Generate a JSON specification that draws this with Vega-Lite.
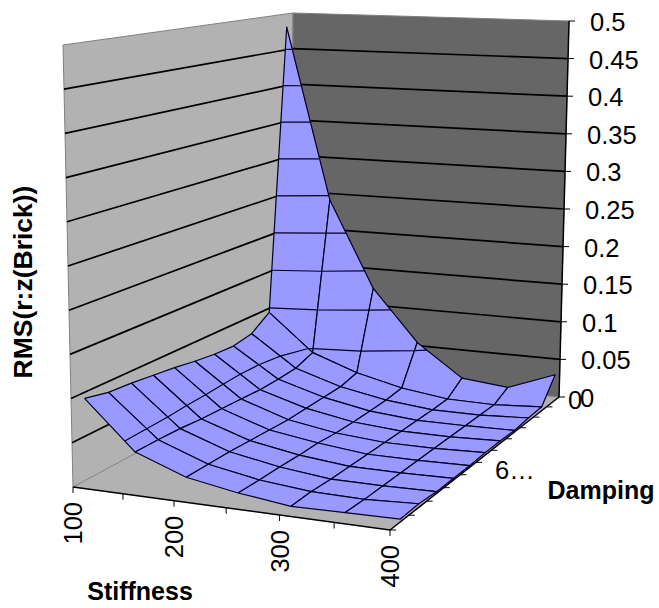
{"$schema":"https://vega.github.io/schema/vega-lite/v6.json","width":659,"height":608,"padding":0,"autosize":{"type":"fit","contains":"padding"},"background":"white","config":{"view":{"stroke":null},"text":{"font":"Liberation Sans","fontSize":25.5,"color":"#000"}},
"datasets":{"vertices":[
{"stiffness":100,"damping":10,"rms":0.481},{"stiffness":150,"damping":10,"rms":0.244},{"stiffness":200,"damping":10,"rms":0.127},{"stiffness":250,"damping":10,"rms":0.059},{"stiffness":300,"damping":10,"rms":0.017},{"stiffness":350,"damping":10,"rms":0.011},{"stiffness":400,"damping":10,"rms":0.034},
{"stiffness":100,"damping":9,"rms":0.094},{"stiffness":150,"damping":9,"rms":0.045},{"stiffness":200,"damping":9,"rms":0.024},{"stiffness":250,"damping":9,"rms":0.01},{"stiffness":300,"damping":9,"rms":0.002},{"stiffness":350,"damping":9,"rms":0.001},{"stiffness":400,"damping":9,"rms":0.005},
{"stiffness":100,"damping":8,"rms":0.076},{"stiffness":150,"damping":8,"rms":0.036},{"stiffness":200,"damping":8,"rms":0.018},{"stiffness":250,"damping":8,"rms":0.007},{"stiffness":300,"damping":8,"rms":0.001},{"stiffness":350,"damping":8,"rms":0.001},{"stiffness":400,"damping":8,"rms":0.004},
{"stiffness":100,"damping":7,"rms":0.071},{"stiffness":150,"damping":7,"rms":0.034},{"stiffness":200,"damping":7,"rms":0.017},{"stiffness":250,"damping":7,"rms":0.006},{"stiffness":300,"damping":7,"rms":0.001},{"stiffness":350,"damping":7,"rms":0.001},{"stiffness":400,"damping":7,"rms":0.002},
{"stiffness":100,"damping":6,"rms":0.072},{"stiffness":150,"damping":6,"rms":0.033},{"stiffness":200,"damping":6,"rms":0.016},{"stiffness":250,"damping":6,"rms":0.0056},{"stiffness":300,"damping":6,"rms":0.001},{"stiffness":350,"damping":6,"rms":0.001},{"stiffness":400,"damping":6,"rms":0.003},
{"stiffness":100,"damping":5,"rms":0.075},{"stiffness":150,"damping":5,"rms":0.034},{"stiffness":200,"damping":5,"rms":0.015},{"stiffness":250,"damping":5,"rms":0.0056},{"stiffness":300,"damping":5,"rms":0.001},{"stiffness":350,"damping":5,"rms":0.001},{"stiffness":400,"damping":5,"rms":0.003},
{"stiffness":100,"damping":4,"rms":0.079},{"stiffness":150,"damping":4,"rms":0.035},{"stiffness":200,"damping":4,"rms":0.016},{"stiffness":250,"damping":4,"rms":0.0073},{"stiffness":300,"damping":4,"rms":0.001},{"stiffness":350,"damping":4,"rms":0.001},{"stiffness":400,"damping":4,"rms":0.002},
{"stiffness":100,"damping":3,"rms":0.082},{"stiffness":150,"damping":3,"rms":0.036},{"stiffness":200,"damping":3,"rms":0.017},{"stiffness":250,"damping":3,"rms":0.007},{"stiffness":300,"damping":3,"rms":0.001},{"stiffness":350,"damping":3,"rms":0.001},{"stiffness":400,"damping":3,"rms":0.002},
{"stiffness":100,"damping":2,"rms":0.085},{"stiffness":150,"damping":2,"rms":0.038},{"stiffness":200,"damping":2,"rms":0.018},{"stiffness":250,"damping":2,"rms":0.0076},{"stiffness":300,"damping":2,"rms":0.001},{"stiffness":350,"damping":2,"rms":0.001},{"stiffness":400,"damping":2,"rms":0.002},
{"stiffness":100,"damping":1,"rms":0.087},{"stiffness":150,"damping":1,"rms":0.039},{"stiffness":200,"damping":1,"rms":0.018},{"stiffness":250,"damping":1,"rms":0.0075},{"stiffness":300,"damping":1,"rms":0.002},{"stiffness":350,"damping":1,"rms":0.001},{"stiffness":400,"damping":1,"rms":0.004},
{"stiffness":100,"damping":0,"rms":0.093},{"stiffness":150,"damping":0,"rms":0.039},{"stiffness":200,"damping":0,"rms":0.018},{"stiffness":250,"damping":0,"rms":0.008},{"stiffness":300,"damping":0,"rms":0.001},{"stiffness":350,"damping":0,"rms":0.002},{"stiffness":400,"damping":0,"rms":0.003}
],
"frame":[
{"kind":"floor","g":"floor","stiffness":100,"damping":-0.545,"rms":0,"o":0},{"kind":"floor","g":"floor","stiffness":400,"damping":-0.545,"rms":0,"o":1},{"kind":"floor","g":"floor","stiffness":400,"damping":10.36,"rms":0,"o":2},{"kind":"floor","g":"floor","stiffness":100,"damping":10.36,"rms":0,"o":3},
{"kind":"left","g":"left","stiffness":100,"damping":-0.545,"rms":0,"o":0},{"kind":"left","g":"left","stiffness":100,"damping":10.36,"rms":0,"o":1},{"kind":"left","g":"left","stiffness":100,"damping":10.36,"rms":0.5,"o":2},{"kind":"left","g":"left","stiffness":100,"damping":-0.545,"rms":0.5,"o":3},{"kind":"left","g":"left","stiffness":100,"damping":-0.545,"rms":0,"o":4},
{"kind":"back","g":"back","stiffness":100,"damping":10.36,"rms":0,"o":0},{"kind":"back","g":"back","stiffness":400,"damping":10.36,"rms":0,"o":1},{"kind":"back","g":"back","stiffness":400,"damping":10.36,"rms":0.5,"o":2},{"kind":"back","g":"back","stiffness":100,"damping":10.36,"rms":0.5,"o":3},{"kind":"back","g":"back","stiffness":100,"damping":10.36,"rms":0,"o":4},
{"kind":"grid","g":"0.05","stiffness":100,"damping":-0.545,"rms":0.05,"o":0},{"kind":"grid","g":"0.05","stiffness":100,"damping":10.36,"rms":0.05,"o":1},{"kind":"grid","g":"0.05","stiffness":400,"damping":10.36,"rms":0.05,"o":2},
{"kind":"grid","g":"0.1","stiffness":100,"damping":-0.545,"rms":0.1,"o":0},{"kind":"grid","g":"0.1","stiffness":100,"damping":10.36,"rms":0.1,"o":1},{"kind":"grid","g":"0.1","stiffness":400,"damping":10.36,"rms":0.1,"o":2},
{"kind":"grid","g":"0.15","stiffness":100,"damping":-0.545,"rms":0.15,"o":0},{"kind":"grid","g":"0.15","stiffness":100,"damping":10.36,"rms":0.15,"o":1},{"kind":"grid","g":"0.15","stiffness":400,"damping":10.36,"rms":0.15,"o":2},
{"kind":"grid","g":"0.2","stiffness":100,"damping":-0.545,"rms":0.2,"o":0},{"kind":"grid","g":"0.2","stiffness":100,"damping":10.36,"rms":0.2,"o":1},{"kind":"grid","g":"0.2","stiffness":400,"damping":10.36,"rms":0.2,"o":2},
{"kind":"grid","g":"0.25","stiffness":100,"damping":-0.545,"rms":0.25,"o":0},{"kind":"grid","g":"0.25","stiffness":100,"damping":10.36,"rms":0.25,"o":1},{"kind":"grid","g":"0.25","stiffness":400,"damping":10.36,"rms":0.25,"o":2},
{"kind":"grid","g":"0.3","stiffness":100,"damping":-0.545,"rms":0.3,"o":0},{"kind":"grid","g":"0.3","stiffness":100,"damping":10.36,"rms":0.3,"o":1},{"kind":"grid","g":"0.3","stiffness":400,"damping":10.36,"rms":0.3,"o":2},
{"kind":"grid","g":"0.35","stiffness":100,"damping":-0.545,"rms":0.35,"o":0},{"kind":"grid","g":"0.35","stiffness":100,"damping":10.36,"rms":0.35,"o":1},{"kind":"grid","g":"0.35","stiffness":400,"damping":10.36,"rms":0.35,"o":2},
{"kind":"grid","g":"0.4","stiffness":100,"damping":-0.545,"rms":0.4,"o":0},{"kind":"grid","g":"0.4","stiffness":100,"damping":10.36,"rms":0.4,"o":1},{"kind":"grid","g":"0.4","stiffness":400,"damping":10.36,"rms":0.4,"o":2},
{"kind":"grid","g":"0.45","stiffness":100,"damping":-0.545,"rms":0.45,"o":0},{"kind":"grid","g":"0.45","stiffness":100,"damping":10.36,"rms":0.45,"o":1},{"kind":"grid","g":"0.45","stiffness":400,"damping":10.36,"rms":0.45,"o":2},
{"kind":"axis","g":"stiffness","stiffness":100,"damping":-0.545,"rms":0,"o":0},{"kind":"axis","g":"stiffness","stiffness":400,"damping":-0.545,"rms":0,"o":1},
{"kind":"axis","g":"damping","stiffness":400,"damping":-0.545,"rms":0,"o":0},{"kind":"axis","g":"damping","stiffness":400,"damping":10.36,"rms":0,"o":1},
{"kind":"axis","g":"rms","stiffness":400,"damping":10.36,"rms":0,"o":0},{"kind":"axis","g":"rms","stiffness":400,"damping":10.36,"rms":0.5,"o":1},
{"kind":"sTick","stiffness":100,"damping":-0.545,"rms":0,"label":"100"},{"kind":"sTick","stiffness":150,"damping":-0.545,"rms":0},{"kind":"sTick","stiffness":200,"damping":-0.545,"rms":0,"label":"200"},{"kind":"sTick","stiffness":250,"damping":-0.545,"rms":0},{"kind":"sTick","stiffness":300,"damping":-0.545,"rms":0,"label":"300"},{"kind":"sTick","stiffness":350,"damping":-0.545,"rms":0},{"kind":"sTick","stiffness":400,"damping":-0.545,"rms":0,"label":"400"},
{"kind":"dTick","stiffness":400,"damping":-0.545,"rms":0},{"kind":"dTick","stiffness":400,"damping":0.45,"rms":0},{"kind":"dTick","stiffness":400,"damping":1.44,"rms":0},{"kind":"dTick","stiffness":400,"damping":2.43,"rms":0},{"kind":"dTick","stiffness":400,"damping":3.42,"rms":0},{"kind":"dTick","stiffness":400,"damping":4.41,"rms":0},{"kind":"dTick","stiffness":400,"damping":5.41,"rms":0},{"kind":"dTick","stiffness":400,"damping":6.4,"rms":0},{"kind":"dTick","stiffness":400,"damping":7.39,"rms":0},{"kind":"dTick","stiffness":400,"damping":8.38,"rms":0},{"kind":"dTick","stiffness":400,"damping":9.37,"rms":0},
{"kind":"rTick","stiffness":400,"damping":10.36,"rms":0,"label":"0"},{"kind":"rTick","stiffness":400,"damping":10.36,"rms":0.05,"label":"0.05"},{"kind":"rTick","stiffness":400,"damping":10.36,"rms":0.1,"label":"0.1"},{"kind":"rTick","stiffness":400,"damping":10.36,"rms":0.15,"label":"0.15"},{"kind":"rTick","stiffness":400,"damping":10.36,"rms":0.2,"label":"0.2"},{"kind":"rTick","stiffness":400,"damping":10.36,"rms":0.25,"label":"0.25"},{"kind":"rTick","stiffness":400,"damping":10.36,"rms":0.3,"label":"0.3"},{"kind":"rTick","stiffness":400,"damping":10.36,"rms":0.35,"label":"0.35"},{"kind":"rTick","stiffness":400,"damping":10.36,"rms":0.4,"label":"0.4"},{"kind":"rTick","stiffness":400,"damping":10.36,"rms":0.45,"label":"0.45"},{"kind":"rTick","stiffness":400,"damping":10.36,"rms":0.5,"label":"0.5"},
{"kind":"d0","stiffness":400,"damping":10.36,"rms":0,"label":"0"},{"kind":"d6","stiffness":400,"damping":5,"rms":0,"label":"6…"},
{"kind":"tS","stiffness":100,"damping":-0.545,"rms":0,"label":"Stiffness"},{"kind":"tD","stiffness":400,"damping":-0.545,"rms":0,"label":"Damping"},{"kind":"tR","stiffness":100,"damping":-0.545,"rms":0.25,"label":"RMS(r:z(Brick))"},
{"kind":"contour","g":"c45","stiffness":100,"damping":9.92,"rms":0.45,"o":0},{"kind":"contour","g":"c45","stiffness":106.6,"damping":10,"rms":0.45,"o":1},
{"kind":"contour","g":"c40","stiffness":100,"damping":9.791,"rms":0.4,"o":0},{"kind":"contour","g":"c40","stiffness":117.1,"damping":10,"rms":0.4,"o":1},
{"kind":"contour","g":"c35","stiffness":100,"damping":9.661,"rms":0.35,"o":0},{"kind":"contour","g":"c35","stiffness":127.7,"damping":10,"rms":0.35,"o":1},
{"kind":"contour","g":"c30","stiffness":100,"damping":9.532,"rms":0.3,"o":0},{"kind":"contour","g":"c30","stiffness":138.2,"damping":10,"rms":0.3,"o":1},
{"kind":"contour","g":"c25","stiffness":100,"damping":9.403,"rms":0.25,"o":0},{"kind":"contour","g":"c25","stiffness":148.8,"damping":10,"rms":0.25,"o":1},
{"kind":"contour","g":"c20","stiffness":100,"damping":9.274,"rms":0.2,"o":0},{"kind":"contour","g":"c20","stiffness":150,"damping":9.779,"rms":0.2,"o":1},{"kind":"contour","g":"c20","stiffness":168.8,"damping":10,"rms":0.2,"o":2},
{"kind":"contour","g":"c15","stiffness":100,"damping":9.145,"rms":0.15,"o":0},{"kind":"contour","g":"c15","stiffness":150,"damping":9.528,"rms":0.15,"o":1},{"kind":"contour","g":"c15","stiffness":190.2,"damping":10,"rms":0.15,"o":2},
{"kind":"contour","g":"c10","stiffness":100,"damping":9.016,"rms":0.1,"o":0},{"kind":"contour","g":"c10","stiffness":150,"damping":9.276,"rms":0.1,"o":1},{"kind":"contour","g":"c10","stiffness":200,"damping":9.738,"rms":0.1,"o":2},{"kind":"contour","g":"c10","stiffness":219.9,"damping":10,"rms":0.1,"o":3},
{"kind":"contour","g":"c05","stiffness":139.8,"damping":0,"rms":0.05,"o":0},{"kind":"contour","g":"c05","stiffness":138.5,"damping":1,"rms":0.05,"o":1},{"kind":"contour","g":"c05","stiffness":137.3,"damping":2,"rms":0.05,"o":2},{"kind":"contour","g":"c05","stiffness":134.8,"damping":3,"rms":0.05,"o":3},{"kind":"contour","g":"c05","stiffness":133,"damping":4,"rms":0.05,"o":4},{"kind":"contour","g":"c05","stiffness":130.5,"damping":5,"rms":0.05,"o":5},{"kind":"contour","g":"c05","stiffness":128.2,"damping":6,"rms":0.05,"o":6},{"kind":"contour","g":"c05","stiffness":128.4,"damping":7,"rms":0.05,"o":7},{"kind":"contour","g":"c05","stiffness":132.5,"damping":8,"rms":0.05,"o":8},{"kind":"contour","g":"c05","stiffness":144.9,"damping":9,"rms":0.05,"o":9},{"kind":"contour","g":"c05","stiffness":150,"damping":9.025,"rms":0.05,"o":10},{"kind":"contour","g":"c05","stiffness":200,"damping":9.252,"rms":0.05,"o":11},{"kind":"contour","g":"c05","stiffness":250,"damping":9.816,"rms":0.05,"o":12},{"kind":"contour","g":"c05","stiffness":260.7,"damping":10,"rms":0.05,"o":13}
]},
"data":{"name":"frame"},
"transform":[
{"calculate":"(datum.stiffness-100)/300","as":"s"},{"calculate":"0.05+0.0917*datum.damping","as":"d"},{"calculate":"datum.rms/0.5","as":"v"},{"calculate":"1-0.06473*datum.s+0.22824*datum.d","as":"w"},
{"calculate":"(73+291.76*datum.s+285.65*datum.d)/datum.w+datum.v*(-10*(1-datum.s)*(1-datum.d)+(1-datum.s)*datum.d+10*datum.s*datum.d-datum.s*(1-datum.d))","as":"X"},
{"calculate":"(487+8.69*datum.s-33.78*datum.d)/datum.w-datum.v*(442*(1-datum.s)*(1-datum.d)+356*(1-datum.s)*datum.d+376*datum.s*datum.d+462*datum.s*(1-datum.d))","as":"Y"},
{"calculate":"datum.X+6","as":"X2"},{"calculate":"datum.Y+6","as":"Y2"}
],
"encoding":{"x":{"field":"X","type":"quantitative","scale":{"domain":[0,659],"nice":false,"zero":false},"axis":null},"y":{"field":"Y","type":"quantitative","scale":{"domain":[608,0],"nice":false,"zero":false},"axis":null}},
"layer":[
{"transform":[{"filter":"datum.kind=='floor'"}],"mark":{"type":"line","fill":"#b2b2b2","stroke":"#b2b2b2","strokeWidth":0.5},"encoding":{"order":{"field":"o"},"detail":{"field":"g"}}},
{"transform":[{"filter":"datum.kind=='left'"}],"mark":{"type":"line","fill":"#b2b2b2","stroke":"#808080","strokeWidth":1},"encoding":{"order":{"field":"o"},"detail":{"field":"g"}}},
{"transform":[{"filter":"datum.kind=='back'"}],"mark":{"type":"line","fill":"#666666","stroke":"#808080","strokeWidth":1},"encoding":{"order":{"field":"o"},"detail":{"field":"g"}}},
{"transform":[{"filter":"datum.kind=='grid'"}],"mark":{"type":"line","stroke":"#000","strokeWidth":1.7},"encoding":{"order":{"field":"o"},"detail":{"field":"g"}}},
{"transform":[{"filter":"datum.kind=='axis'"}],"mark":{"type":"line","stroke":"#000","strokeWidth":1.5},"encoding":{"order":{"field":"o"},"detail":{"field":"g"}}},
{"transform":[{"filter":"datum.kind=='sTick'"}],"mark":{"type":"rule","stroke":"#000","strokeWidth":1},"encoding":{"y2":{"field":"Y2"}}},
{"transform":[{"filter":"datum.kind=='dTick'||datum.kind=='rTick'"}],"mark":{"type":"rule","stroke":"#000","strokeWidth":1},"encoding":{"x2":{"field":"X2"}}},
{"data":{"name":"vertices"},
"transform":[
{"calculate":"[[0,0,0],[0,0,4],[1,0,1],[1,1,2],[0,1,3]]","as":"c"},{"flatten":["c"]},
{"calculate":"datum.stiffness-50*datum.c[0]","as":"cs"},{"calculate":"datum.damping-datum.c[1]","as":"cd"},{"filter":"datum.cs>=100&&datum.cs<400&&datum.cd>=0&&datum.cd<10"},
{"calculate":"datum.cs+'_'+datum.cd","as":"g"},{"calculate":"datum.c[2]","as":"o"},
{"calculate":"(datum.stiffness-100)/300","as":"s"},{"calculate":"0.05+0.0917*datum.damping","as":"d"},{"calculate":"datum.rms/0.5","as":"v"},{"calculate":"1-0.06473*datum.s+0.22824*datum.d","as":"w"},
{"calculate":"(73+291.76*datum.s+285.65*datum.d)/datum.w+datum.v*(-10*(1-datum.s)*(1-datum.d)+(1-datum.s)*datum.d+10*datum.s*datum.d-datum.s*(1-datum.d))","as":"X"},
{"calculate":"(487+8.69*datum.s-33.78*datum.d)/datum.w-datum.v*(442*(1-datum.s)*(1-datum.d)+356*(1-datum.s)*datum.d+376*datum.s*datum.d+462*datum.s*(1-datum.d))","as":"Y"}
],
"mark":{"type":"line","fill":"#9999ff","stroke":"#000022","strokeWidth":1.2,"strokeJoin":"round"},"encoding":{"order":{"field":"o"},"detail":{"field":"g"}}},
{"transform":[{"filter":"datum.kind=='contour'"}],"mark":{"type":"line","stroke":"#000022","strokeWidth":1.2},"encoding":{"order":{"field":"o"},"detail":{"field":"g"}}},
{"transform":[{"filter":"datum.kind=='sTick'&&isValid(datum.label)"}],"mark":{"type":"text","angle":270,"align":"right","baseline":"middle","dx":-15,"dy":1},"encoding":{"text":{"field":"label"}}},
{"transform":[{"filter":"datum.kind=='rTick'"}],"mark":{"type":"text","align":"left","baseline":"middle","dx":21,"dy":2},"encoding":{"text":{"field":"label"}}},
{"transform":[{"filter":"datum.kind=='d0'"}],"mark":{"type":"text","align":"left","baseline":"middle","dx":9,"dy":4},"encoding":{"text":{"field":"label"}}},
{"transform":[{"filter":"datum.kind=='d6'"}],"mark":{"type":"text","align":"left","baseline":"middle","dx":10,"dy":16},"encoding":{"text":{"field":"label"}}},
{"transform":[{"filter":"datum.kind=='tS'"}],"mark":{"type":"text","align":"center","baseline":"middle","fontWeight":"bold","fontSize":25,"dx":67,"dy":105},"encoding":{"text":{"field":"label"}}},
{"transform":[{"filter":"datum.kind=='tD'"}],"mark":{"type":"text","align":"center","baseline":"middle","fontWeight":"bold","fontSize":25,"dx":211,"dy":-39},"encoding":{"text":{"field":"label"}}},
{"transform":[{"filter":"datum.kind=='tR'"}],"mark":{"type":"text","angle":270,"align":"center","baseline":"middle","fontWeight":"bold","fontSize":26.5,"dx":-16,"dy":-44},"encoding":{"text":{"field":"label"}}}
]}
